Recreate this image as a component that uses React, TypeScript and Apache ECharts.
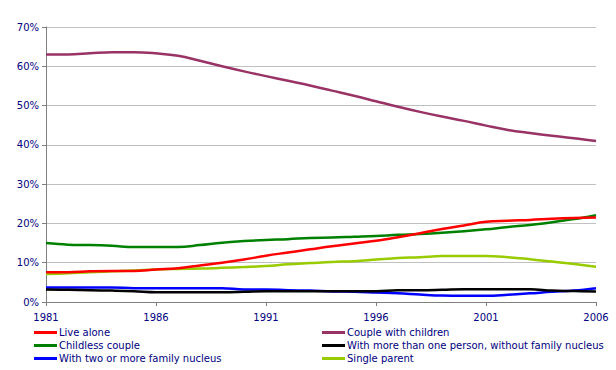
import React, { useEffect, useRef } from "react";
import * as echarts from "echarts";

const years = [
  "1981", "1982", "1983", "1984", "1985", "1986", "1987", "1988", "1989", "1990",
  "1991", "1992", "1993", "1994", "1995", "1996", "1997", "1998", "1999", "2000",
  "2001", "2002", "2003", "2004", "2005", "2006",
];
const liveAlone = [7.6, 7.6, 7.8, 7.9, 7.9, 8.3, 8.6, 9.3, 10.0, 10.8, 11.8, 12.6, 13.4, 14.2, 14.9, 15.6, 16.5, 17.5, 18.6, 19.5, 20.4, 20.7, 20.9, 21.2, 21.4, 21.5];
const coupleWithChildren = [63.0, 63.0, 63.3, 63.6, 63.6, 63.3, 62.7, 61.4, 60.0, 58.7, 57.5, 56.3, 55.1, 53.8, 52.5, 51.1, 49.7, 48.4, 47.2, 46.1, 44.9, 43.8, 43.0, 42.3, 41.7, 41.0];
const childlessCouple = [15.0, 14.6, 14.5, 14.3, 14.0, 14.0, 14.0, 14.5, 15.1, 15.5, 15.8, 16.0, 16.3, 16.4, 16.6, 16.8, 17.1, 17.3, 17.6, 18.0, 18.5, 19.1, 19.6, 20.3, 21.1, 22.1];
const moreThanOne = [3.2, 3.1, 3.0, 2.9, 2.75, 2.5, 2.5, 2.5, 2.5, 2.6, 2.75, 2.75, 2.75, 2.75, 2.75, 2.75, 3.0, 3.0, 3.1, 3.25, 3.25, 3.25, 3.25, 2.9, 2.8, 2.65];
const twoOrMore = [3.7, 3.7, 3.7, 3.7, 3.5, 3.5, 3.5, 3.5, 3.5, 3.2, 3.2, 3.0, 2.9, 2.7, 2.6, 2.4, 2.2, 1.9, 1.65, 1.6, 1.6, 1.85, 2.2, 2.6, 2.9, 3.5];
const singleParent = [7.1, 7.3, 7.6, 7.8, 8.0, 8.3, 8.4, 8.5, 8.7, 8.9, 9.15, 9.6, 9.9, 10.2, 10.4, 10.8, 11.2, 11.4, 11.7, 11.7, 11.7, 11.4, 10.9, 10.3, 9.7, 9.0];
const yTicks = [0, 10, 20, 30, 40, 50, 60, 70];

const names = [
  "Live alone",
  "Couple with children",
  "Childless couple",
  "With more than one person, without family nucleus",
  "With two or more family nucleus",
  "Single parent",
];
const values = [liveAlone, coupleWithChildren, childlessCouple, moreThanOne, twoOrMore, singleParent];
const colors = ["#ff0000", "#993366", "#008000", "#000000", "#0000ff", "#99cc00"];

const FONT = "DejaVu Sans";
const NAVY = "#000080";

export default function App() {
  const ref = useRef<HTMLDivElement>(null);
  useEffect(() => {
    if (!ref.current) return;
    const chart = echarts.init(ref.current, undefined, { renderer: "svg" });
    const legendCommon = {
      orient: "vertical" as const,
      top: 326,
      height: 44,
      padding: 0,
      itemWidth: 23,
      itemHeight: 3,
      itemGap: 0,
      icon: "rect",
      selectedMode: false,
      textStyle: {
        fontFamily: FONT,
        fontSize: 10,
        color: NAVY,
        lineHeight: 13,
        padding: [0, 0, 0, -3],
      },
    };
    chart.setOption({
      animation: false,
      backgroundColor: "#ffffff",
      textStyle: { fontFamily: FONT },
      grid: { left: 46, right: 20, top: 27, bottom: 68, containLabel: false },
      legend: [
        { ...legendCommon, left: 34, data: [names[0], names[2], names[4]] },
        { ...legendCommon, left: 322, data: [names[1], names[3], names[5]] },
      ],
      xAxis: {
        type: "category",
        data: years,
        boundaryGap: false,
        axisLine: { lineStyle: { color: "#808080", width: 1 } },
        axisTick: { show: true, length: 4, interval: 4, lineStyle: { color: "#808080" } },
        axisLabel: { fontFamily: FONT, fontSize: 10, color: NAVY, margin: 10, interval: 4 },
        splitLine: { show: false },
      },
      yAxis: {
        type: "value",
        min: yTicks[0],
        max: yTicks[yTicks.length - 1],
        interval: 10,
        axisLine: { show: true, lineStyle: { color: "#808080", width: 1 } },
        axisTick: { show: true, length: 4, lineStyle: { color: "#808080" } },
        axisLabel: {
          fontFamily: FONT,
          fontSize: 10,
          color: NAVY,
          margin: 7,
          formatter: "{value}%",
        },
        splitLine: { show: true, lineStyle: { color: "#c0c0c0", width: 1 } },
      },
      series: names.map((n, i) => ({
        name: n,
        type: "line",
        data: values[i],
        smooth: 0.4,
        showSymbol: false,
        symbol: "none",
        color: colors[i],
        lineStyle: { color: colors[i], width: 2.5 },
        z: 10 - i,
      })),
    });
    return () => chart.dispose();
  }, []);
  return <div ref={ref} style={{ width: 616, height: 370, position: "absolute", left: 0, top: 0 }} />;
}
